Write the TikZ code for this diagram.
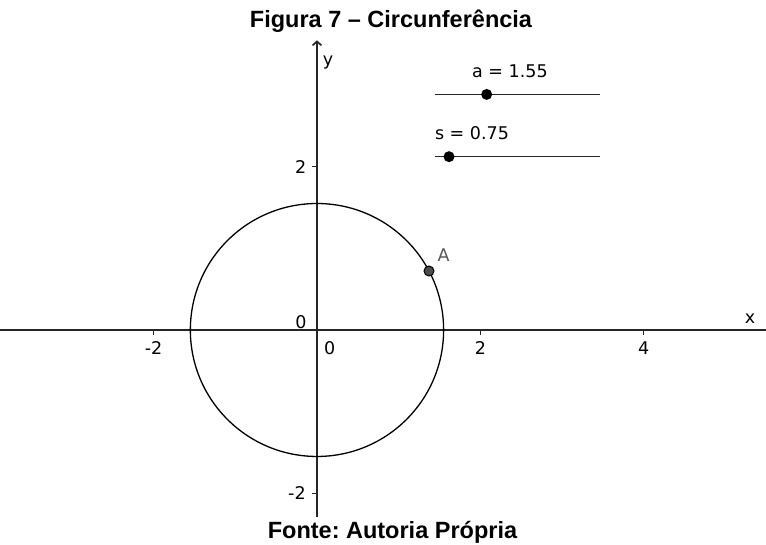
\documentclass[tikz,border=0pt]{standalone}
\usepackage{fontspec}
\setmainfont{Liberation Sans}
\newfontfamily\ggbfont{DejaVu Sans}
\usetikzlibrary{arrows.meta}
\frenchspacing
\begin{document}
\begin{tikzpicture}[x=81.7pt, y=81.6pt, semithick]
    \tikzset{lbl/.style={font=\ggbfont\fontsize{17.5}{20}\selectfont, inner sep=0pt}};
    \tikzset{heading/.style={font=\bfseries\fontsize{23.5}{27}\selectfont, inner sep=0pt, anchor=base}};
    \tikzset{axisline/.style={draw=black!85, line width=1.7pt}};
    \tikzset{tickmark/.style={draw=black!85, line width=1.1pt}};
    \tikzset{sliderbar/.style={draw=black!85, line width=1.3pt}};
    \tikzset{knob/.style={circle, fill=black, minimum size=11pt, inner sep=0pt}};
    \tikzset{ptA/.style={circle, draw=black, fill=black!70, line width=1pt, minimum size=10pt, inner sep=0pt}};
    \useasboundingbox (-3.880,-2.623) rectangle (5.496,4.044);
    \node[heading] (title) at (0.906,3.713) {Figura 7 -- Circunferência};
    \node[heading] (fonte) at (0.924,-2.552) {Fonte: Autoria Própria};
    % axes
    \coordinate (xl) at (-3.880,0);
    \coordinate (xr) at (5.496,0);
    \coordinate (yb) at (0,-2.29);
    \coordinate (yt) at (0,3.55);
    \draw[axisline] (xl) -- (xr);
    \draw[axisline, -{Straight Barb[length=4pt,width=9pt]}] (yb) -- (yt);
    \node[lbl] (xlab) at (5.30,0.135) {x};
    \node[lbl] (ylab) at (0.135,3.28) {y};
    \foreach \t in {-2,2,4} {
      \draw[tickmark] (\t,0) -- (\t,-0.06);
      \node[lbl] (xt\t) at (\t,-0.22) {\t};
    }
    \foreach \t in {-2,2} {
      \draw[tickmark] (0,\t) -- (-0.06,\t);
    }
    \node[lbl] (yt2) at (-0.20,2.0) {2};
    \node[lbl] (ytm2) at (-0.245,-2.0) {-2};
    \node[lbl] (zx) at (0.157,-0.22) {0};
    \node[lbl] (zy) at (-0.196,0.10) {0};
    % circle and point
    \draw[line width=1.3pt] (0,0) circle (1.55);
    \node[ptA] (A) at (27.8:1.55) {};
    \node[lbl, text=black!65] (Alab) at (1.55,0.919) {A};
    % sliders
    \coordinate (aL) at (1.444,2.887);
    \coordinate (aR) at (3.464,2.887);
    \draw[sliderbar] (aL) -- (aR);
    \node[knob] (aK) at (2.077,2.887) {};
    \node[lbl] (alab) at (2.362,3.174) {a = 1.55};
    \coordinate (sL) at (1.444,2.124);
    \coordinate (sR) at (3.464,2.124);
    \draw[sliderbar] (sL) -- (sR);
    \node[knob] (sK) at (1.616,2.124) {};
    \node[lbl] (slab) at (1.897,2.414) {s = 0.75};
\end{tikzpicture}
\end{document}
